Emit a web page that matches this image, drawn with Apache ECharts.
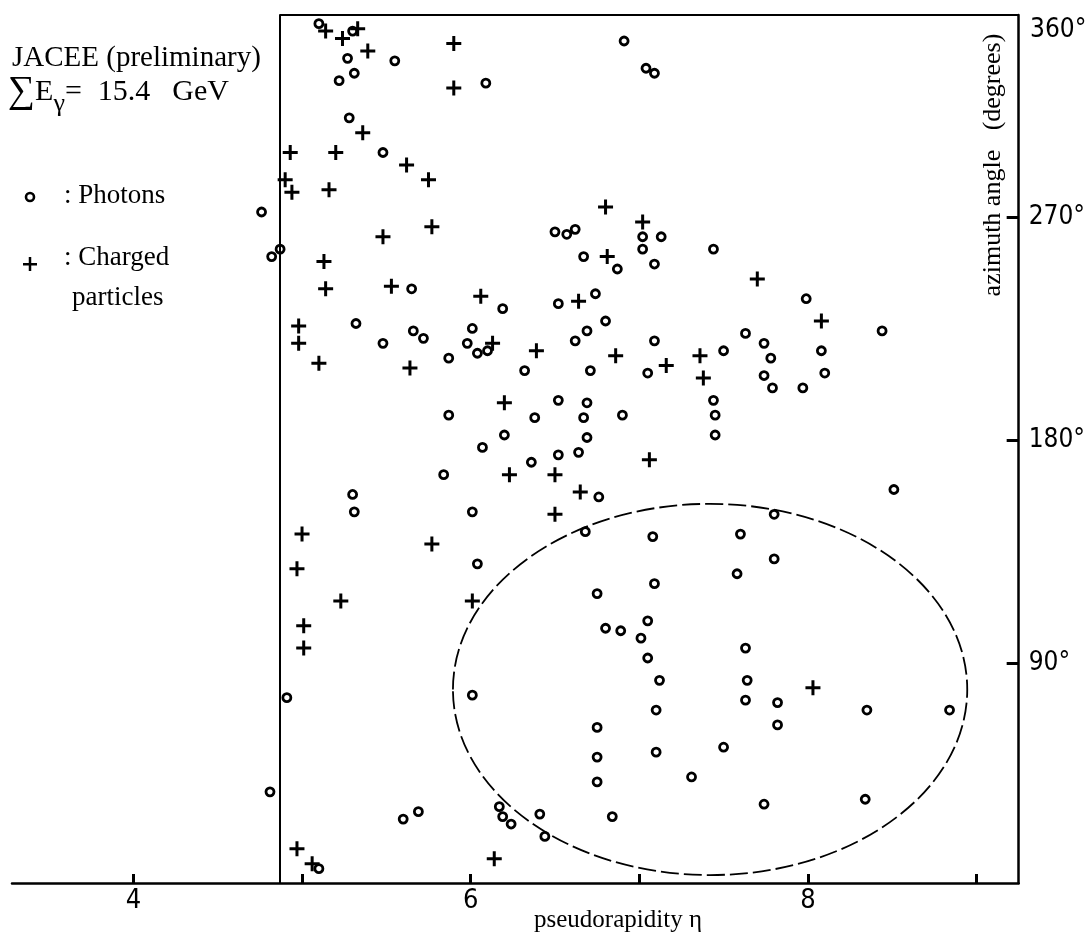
<!DOCTYPE html>
<html>
<head>
<meta charset="utf-8">
<script src="https://cdn.jsdelivr.net/npm/echarts@6.0.0/dist/echarts.min.js"></script>
<style>
html, body { margin: 0; padding: 0; background: #fff; }
#main { width: 1088px; height: 940px; }
</style>
</head>
<body>
<div id="main"></div>
<script>
// photons: [eta, phi (deg)]
var photons = [
    [5.10,348],[5.30,345],[5.27,334],[5.55,333],[5.31,328],[5.22,325],[6.09,324],[5.28,310],[5.48,296],
    [6.91,341],[7.04,330],[7.09,328],
    [4.76,272],[4.87,257],[4.82,254],
    [6.50,264],[6.57,263],[6.62,265],[7.02,262],[7.13,262],[7.02,257],[6.67,254],[7.44,257],[6.87,249],[7.09,251],
    [5.65,241],[6.74,239],[6.52,235],[6.19,233],[6.80,228],[6.69,224],[6.62,220],[7.09,220],[7.99,237],[8.44,224],
    [5.32,227],[5.66,224],[5.72,221],[6.01,225],[5.48,219],[5.98,219],[6.04,215],[6.10,216],[5.87,213],[6.32,208],
    [6.71,208],[7.05,207],[7.50,216],[7.63,223],[7.74,219],[7.78,213],[7.74,206],[7.79,201],[7.97,201],[8.08,216],[8.10,207],
    [5.87,190],[6.38,189],[6.52,196],[6.69,195],[6.67,189],[6.90,190],[6.69,181],[6.52,174],[6.64,175],[7.44,196],[7.45,190],[7.45,182],
    [6.36,171],[6.20,182],[6.07,177],[5.84,166],[5.30,158],[5.31,151],[6.01,151],[6.04,130],[6.01,77],[4.91,76],[4.81,38],
    [5.60,27],[5.69,30],[6.17,32],[6.19,28],[6.24,25],[6.41,29],[6.44,20],[5.10,7],
    [6.76,157],[8.51,160],[6.68,143],[7.80,150],[7.08,141],[7.60,142],[7.80,132],[7.58,126],[6.75,118],[7.09,122],
    [7.05,107],[6.80,104],[6.89,103],[7.01,100],[7.05,92],[7.63,96],[7.12,83],[7.64,83],[7.63,75],[7.82,74],[8.35,71],[8.84,71],[7.10,71],
    [7.82,65],[6.75,64],[6.75,52],[7.10,54],[7.50,56],[6.75,42],[7.31,44],[7.74,33],[8.34,35],[6.84,28]
];
// charged particles: [eta, phi (deg)]
var charged = [
    [5.14,345],[5.24,342],[5.33,346],[5.39,337],[5.90,340],[5.90,322],[5.36,304],[4.93,296],[5.20,296],[5.62,291],[5.75,285],[4.90,285],[4.94,280],[5.16,281],
    [6.80,274],[7.02,268],[6.81,254],
    [5.48,262],[5.77,266],[5.13,252],[5.14,241],[5.53,242],[6.06,238],[4.98,226],[4.98,219],[5.10,211],[6.13,219],[6.39,216],[5.64,209],[6.20,195],
    [6.64,236],[7.70,245],[8.08,228],[6.86,214],[7.16,210],[7.36,214],[7.38,205],
    [7.06,172],[6.50,166],[6.65,159],[6.23,166],[6.50,150],[5.00,142],[4.97,128],[5.23,115],[5.01,105],[5.01,96],[5.77,138],[6.01,115],
    [4.97,15],[5.06,9],[6.14,11],[8.03,80]
];
var xTicks = [4, 5, 6, 7, 8, 9];
var xLabels = [4, 6, 8];
var yTicks = [90, 180, 270];
// dashed ellipse: centre eta, centre phi, half width (eta), half height (deg)
var ellipse = [[7.42, 79.3, 1.525, 74.9]];

var etaMin = 3.28, etaMax = 9.25;
var phiMin = 1.2, phiMax = 351.5;
var boxLeft = 4.865;

var serif = '"Liberation Serif", "Times New Roman", serif';
var narrow = '"Liberation Sans Narrow", "DejaVu Sans Condensed", "Liberation Sans", sans-serif';
var plus = 'path://M6,0H9V6H15V9H9V15H6V9H0V6H6Z';

var myChart = echarts.init(document.getElementById('main'));
var option = {
    animation: false,
    backgroundColor: '#fff',
    grid: { left: 12, right: 68, top: 15, bottom: 57 },
    xAxis: {
        type: 'value',
        min: etaMin,
        max: etaMax,
        splitLine: { show: false },
        axisLine: { show: true, onZero: false, lineStyle: { color: '#000', width: 2.5 } },
        axisTick: { show: true, inside: true, length: 9, customValues: xTicks, lineStyle: { color: '#000', width: 3 } },
        axisLabel: { customValues: xLabels, color: '#000', fontFamily: narrow, fontSize: 27, margin: 4 }
    },
    yAxis: {
        type: 'value',
        position: 'right',
        min: phiMin,
        max: phiMax,
        splitLine: { show: false },
        axisLine: { show: true, onZero: false, lineStyle: { color: '#000', width: 2.5 } },
        axisTick: { show: true, inside: true, length: 12, customValues: yTicks, lineStyle: { color: '#000', width: 3 } },
        axisLabel: { customValues: yTicks, formatter: '{value}°', color: '#000', fontFamily: narrow, fontSize: 26, margin: 10, padding: [8, 0, 0, 0] }
    },
    graphic: [
        { type: 'text', x: 12, y: 58, style: { text: 'JACEE (preliminary)', fontSize: 29, fontFamily: serif, fill: '#000', align: 'left', verticalAlign: 'middle' } },
        { type: 'text', x: 8, y: 92, style: {
            text: '{s|∑}{n|E}{g|γ}{n|=}{a|15.4}{b|GeV}',
            fill: '#000', align: 'left', verticalAlign: 'middle',
            rich: {
                s: { fontSize: 38, fontFamily: serif, fill: '#000' },
                n: { fontSize: 30, fontFamily: serif, fill: '#000' },
                g: { fontSize: 26, fontFamily: serif, fill: '#000', padding: [24, 0, 0, 0] },
                a: { fontSize: 30, fontFamily: serif, fill: '#000', padding: [0, 0, 0, 16] },
                b: { fontSize: 30, fontFamily: serif, fill: '#000', padding: [0, 0, 0, 22] }
            }
        } },
        { type: 'circle', shape: { cx: 30, cy: 197, r: 4 }, style: { fill: '#fff', stroke: '#000', lineWidth: 2.6 } },
        { type: 'text', x: 64, y: 196, style: { text: ': Photons', fontSize: 27, fontFamily: serif, fill: '#000', align: 'left', verticalAlign: 'middle' } },
        { type: 'rect', shape: { x: 23, y: 263, width: 14, height: 2.5 }, style: { fill: '#000' } },
        { type: 'rect', shape: { x: 28.75, y: 257, width: 2.5, height: 14 }, style: { fill: '#000' } },
        { type: 'text', x: 64, y: 258, style: { text: ': Charged', fontSize: 27, fontFamily: serif, fill: '#000', align: 'left', verticalAlign: 'middle' } },
        { type: 'text', x: 72, y: 298, style: { text: 'particles', fontSize: 27, fontFamily: serif, fill: '#000', align: 'left', verticalAlign: 'middle' } },
        { type: 'text', x: 618, y: 920, style: { text: 'pseudorapidity η', fontSize: 25, fontFamily: serif, fill: '#000', align: 'center', verticalAlign: 'middle' } },
        { type: 'text', x: 1030, y: 30, style: { text: '360°', fontSize: 26, fontFamily: narrow, fill: '#000', align: 'left', verticalAlign: 'middle' } },
        { type: 'text', x: 993, y: 165, rotation: Math.PI / 2, style: { text: 'azimuth angle   (degrees)', fontSize: 26, fontFamily: serif, fill: '#000', align: 'center', verticalAlign: 'middle' } }
    ],
    series: [
        {
            type: 'custom',
            silent: true,
            data: ellipse,
            renderItem: function (params, api) {
                var c = api.coord([api.value(0), api.value(1)]);
                var s = api.size([api.value(2), api.value(3)]);
                return {
                    type: 'ellipse',
                    shape: { cx: c[0], cy: c[1], rx: s[0], ry: s[1] },
                    style: { fill: 'none', stroke: '#000', lineWidth: 1.8, lineDash: [18, 5] }
                };
            }
        },
        {
            name: 'Photons',
            type: 'scatter',
            clip: false,
            symbol: 'circle',
            symbolSize: 8,
            itemStyle: { color: '#fff', borderColor: '#000', borderWidth: 2.8, opacity: 1 },
            data: photons
        },
        {
            name: 'Charged particles',
            type: 'scatter',
            clip: false,
            symbol: plus,
            symbolSize: 15,
            itemStyle: { color: '#000', opacity: 1 },
            data: charged,
            markLine: {
                silent: true,
                symbol: 'none',
                label: { show: false },
                lineStyle: { color: '#000', width: 2, type: 'solid' },
                data: [
                    [{ coord: [boxLeft, phiMin] }, { coord: [boxLeft, phiMax] }],
                    [{ coord: [boxLeft, phiMax] }, { coord: [etaMax, phiMax] }]
                ]
            }
        }
    ]
};
myChart.setOption(option);
</script>
</body>
</html>
